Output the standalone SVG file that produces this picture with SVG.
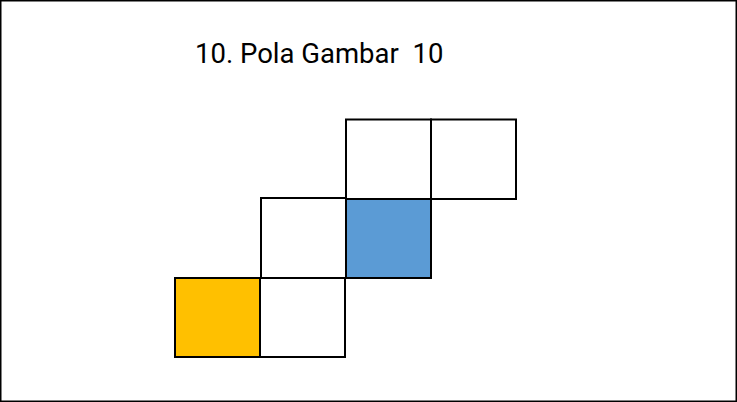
<svg xmlns="http://www.w3.org/2000/svg" width="737" height="402" viewBox="0 0 737 402">
<style>
.sq{stroke:#000;stroke-width:2;}
.t{font-family:Roboto,"Liberation Sans",sans-serif;font-size:27.5px;fill:#000;white-space:pre;}
</style>
<rect x="0.75" y="0.75" width="735.5" height="400.5" fill="#fff" stroke="#000" stroke-width="1.5"/>
<text class="t" x="195" y="63" xml:space="preserve">10. Pola Gambar  10</text>
<g id="sq-yellow"><rect class="sq" x="175" y="278" width="85" height="79" fill="#FFC000"/></g>
<g id="sq-bottom2"><rect class="sq" x="260" y="278" width="85" height="79" fill="#fff"/></g>
<g id="sq-mid1"><rect class="sq" x="261" y="198" width="85" height="80" fill="#fff"/></g>
<g id="sq-blue"><rect class="sq" x="346" y="199" width="85" height="79" fill="#5B9BD5"/></g>
<g id="sq-top1"><rect class="sq" x="346" y="119.5" width="85" height="79.5" fill="#fff"/></g>
<g id="sq-top2"><rect class="sq" x="431" y="119.5" width="85" height="79.5" fill="#fff"/></g>
<g id="connectors"></g>
</svg>
